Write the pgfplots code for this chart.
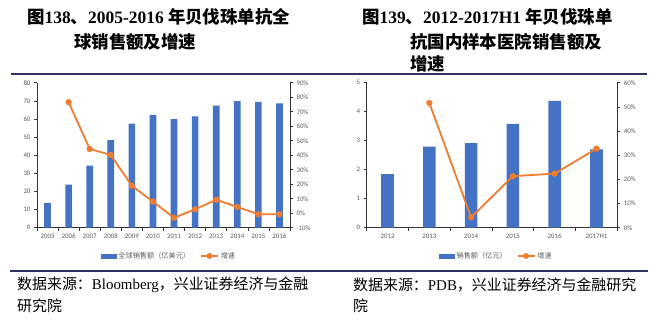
\documentclass[border=0pt]{standalone}
\usepackage{pgfplots}
\pgfplotsset{compat=1.18}
\usepackage{fontspec}
\setmainfont{Liberation Serif}
\newfontfamily\cjk{Noto Sans CJK SC}
\newfontfamily\tickfont{Carlito}
\definecolor{barblue}{HTML}{4472C4}
\definecolor{lineor}{HTML}{ED7D31}
\definecolor{navy}{HTML}{2E3466}
\definecolor{tickgray}{HTML}{595959}
\pgfplotsset{
  base/.style={
    scale only axis, height=145bp,
    axis line style={black!80, line width=0.7bp},
    ticklabel style={font=\tickfont\fontsize{6.9}{7.5}\selectfont, text=tickgray},
    /pgf/number format/assume math mode=true,
    tick style={black!80, line width=0.6bp},
    major tick length=3bp, minor tick length=3bp,
    tick align=outside,
    clip=false,
  },
  barax/.style={base, axis y line*=left, axis x line*=bottom,
    major x tick style={draw=none},
    ybar, bar width=#1, enlarge x limits=false},
  lineax/.style={base, axis x line=none, axis y line*=right,
    yticklabel={\pgfmathprintnumber{\tick}\%},
    legend style={draw=none, fill=none, legend columns=2, inner sep=0pt,
      font=\cjk\fontsize{7.2}{8}\selectfont, text=tickgray,
      /tikz/every even column/.append style={column sep=8bp}},
  },
  barleg/.style={legend image code/.code={\fill[barblue] (0bp,-2bp) rectangle (15bp,2bp);}},
  lineleg/.style={legend image code/.code={\draw[lineor, line width=1.6bp] (0bp,0bp) -- (17bp,0bp); \fill[lineor] (8.5bp,0bp) circle (2bp);}},
}
\pgfplotstableread{
x v
0 13.5
1 23.7
2 34.2
3 48.3
4 57.4
5 62.2
6 59.9
7 61.4
8 67.3
9 69.8
10 69.4
11 68.6
}\leftbars
\pgfplotstableread{
x g
1 76.6
2 44.3
3 40.2
4 18.9
5 8.0
6 -3.2
7 2.7
8 9.3
9 4.3
10 -0.7
11 -0.7
}\leftline
\pgfplotstableread{
x v
0 1.85
1 2.80
2 2.92
3 3.58
4 4.37
5 2.70
}\rightbars
\pgfplotstableread{
x g
1 51.6
2 4.3
3 21.3
4 22.4
5 32.7
}\rightline
\begin{document}
\begin{tikzpicture}[x=1bp,y=1bp]
\path[use as bounding box] (0,0) rectangle (652,322);
% titles
\begin{scope}[every node/.style={anchor=west, inner sep=0pt, font=\bfseries\fontsize{17.5}{20}\selectfont}]
\node at (27,305) {{\cjk 图}138{\cjk 、}2005-2016 {\cjk 年贝伐珠单抗全}};
\node at (74,280) {\cjk 球销售额及增速};
\node at (362,305) {{\cjk 图}139{\cjk 、}2012-2017H1 {\cjk 年贝伐珠单}};
\node at (410,280) {\cjk 抗国内样本医院销售额及};
\node at (410,258) {\cjk 增速};
\end{scope}
\draw[navy, line width=2bp] (11,248) -- (647,248);
\draw[navy, line width=2bp] (10,51.5) -- (648,51.5);
% footers
\begin{scope}[every node/.style={anchor=west, inner sep=0pt, font=\fontsize{15}{18}\selectfont}]
\node at (17,37) {{\cjk 数据来源：}Bloomberg{\cjk ，兴业证券经济与金融}};
\node at (17,16) {\cjk 研究院};
\node at (353,37) {{\cjk 数据来源：}PDB{\cjk ，兴业证券经济与金融研究}};
\node at (353,16) {\cjk 院};
\end{scope}
% left chart
\begin{axis}[barax=6.7bp, at={(37bp,94.3bp)}, anchor=south west, width=253bp,
  xmin=-0.5, xmax=11.5, ymin=0, ymax=80, ytick={0,10,...,80},
  xtick={0,...,11},
  xticklabels={2005,2006,2007,2008,2009,2010,2011,2012,2013,2014,2015,2016},
  minor xtick={-0.5,0.5,...,11.5}]
\addplot[fill=barblue, draw=none] table[x=x, y=v] {\leftbars};
\end{axis}
\begin{axis}[lineax, at={(37bp,94.3bp)}, anchor=south west, width=253bp,
  xmin=-0.5, xmax=11.5, ymin=-10, ymax=90, ytick={-10,0,...,90},
  legend style={at={(0.522,-0.195)}, anchor=center}]
\addlegendimage{barleg}
\addlegendentry{全球销售额（亿美元）}
\addplot[lineor, line width=1.8bp, mark=*, mark size=2.2bp, mark options={fill=lineor, draw=lineor}, lineleg] table[x=x, y=g] {\leftline};
\addlegendentry{增速}
\end{axis}
% right chart
\begin{axis}[barax=12.7bp, at={(366.7bp,94.3bp)}, anchor=south west, width=250.6bp,
  xmin=-0.5, xmax=5.5, ymin=0, ymax=5, ytick={0,1,...,5},
  xtick={0,...,5},
  xticklabels={2012,2013,2014,2015,2016,2017H1},
  minor xtick={-0.5,0.5,...,5.5}]
\addplot[fill=barblue, draw=none] table[x=x, y=v] {\rightbars};
\end{axis}
\begin{axis}[lineax, at={(366.7bp,94.3bp)}, anchor=south west, width=250.6bp,
  xmin=-0.5, xmax=5.5, ymin=0, ymax=60, ytick={0,10,...,60},
  legend style={at={(0.518,-0.195)}, anchor=center}]
\addlegendimage{barleg}
\addlegendentry{销售额（亿元）}
\addplot[lineor, line width=1.8bp, mark=*, mark size=2.2bp, mark options={fill=lineor, draw=lineor}, lineleg] table[x=x, y=g] {\rightline};
\addlegendentry{增速}
\end{axis}
\end{tikzpicture}
\end{document}
